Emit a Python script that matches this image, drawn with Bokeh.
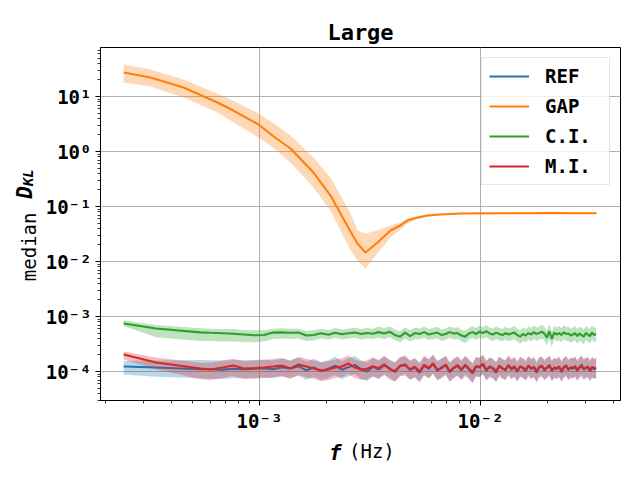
import numpy as np
from bokeh.plotting import figure
from bokeh.models import Range1d, FixedTicker, CustomJSTickFormatter, LogAxis
from bokeh.embed import file_html
from bokeh.resources import INLINE

# ---------------- data ----------------
# sample frequencies of the noisy series, in units of 1e-4 Hz
freq_1e4 = [2.43, 3.4, 5.4, 6.0, 6.8, 7.6, 8.5, 9.5, 10.5, 11.5,
            12.6, 13.8, 15.0, 16.3, 17.6, 19.0, 20.5, 22.0, 23.6, 25.2,
            27.0, 28.8, 30.7, 32.6, 34.6, 36.7, 38.8, 41.0, 43.3, 45.6,
            48.0, 50.5, 53.0, 55.6, 58.3, 61.0, 63.8, 66.7, 69.6, 72.6,
            75.7, 78.8, 82.0, 85.3, 88.6, 92.0, 95.5, 99.0, 102.6, 106.3,
            110.0, 113.8, 117.7, 121.6, 125.6, 129.7, 133.8, 138.0, 142.3, 146.7,
            151.1, 155.6, 160.2, 164.9, 169.6, 174.4, 179.3, 184.3, 189.3, 194.4,
            199.6, 204.9, 210.2, 215.6, 221.1, 226.7, 232.3, 238.0, 243.8, 249.7,
            255.7, 261.7, 267.8, 274.0, 280.3, 286.7, 293.1, 299.6, 306.2, 312.9,
            319.7, 326.6, 333.5]

# REF, in units of 1e-4
ref_median = [1.23, 1.18, 1.10, 1.10, 1.08, 1.12, 1.10, 1.12, 1.15, 1.10,
              1.20, 1.14, 1.25, 1.05, 1.18, 1.02, 1.12, 1.28, 1.08, 1.20,
              1.32, 1.10, 1.00, 1.22, 1.08, 1.30, 1.14, 0.98, 1.25, 1.35,
              1.06, 1.18, 0.95, 1.28, 1.12, 1.38, 1.02, 1.20, 1.30, 0.97,
              1.15, 1.26, 1.05, 1.33, 1.10, 0.92, 1.22, 1.18, 1.35, 1.02,
              1.25, 1.12, 0.95, 1.28, 1.15, 1.05, 1.32, 1.08, 1.20, 0.98,
              1.26, 1.14, 1.02, 1.30, 1.10, 1.22, 0.95, 1.18, 1.28, 1.05,
              1.15, 1.32, 1.00, 1.20, 1.10, 1.25, 0.98, 1.16, 1.30, 1.06,
              1.20, 1.12, 1.26, 1.02, 1.18, 1.34, 1.08, 1.14, 1.24, 1.00,
              1.20, 1.10, 1.16]
ref_upper = [1.55, 1.58, 1.62, 1.60, 1.58, 1.62, 1.60, 1.62, 1.66, 1.58,
             1.70, 1.62, 1.78, 1.52, 1.70, 1.48, 1.62, 1.85, 1.56, 1.74,
             1.92, 1.60, 1.46, 1.78, 1.58, 1.90, 1.66, 1.44, 1.82, 1.98,
             1.55, 1.72, 1.40, 1.88, 1.64, 2.02, 1.50, 1.76, 1.90, 1.42,
             1.68, 1.85, 1.54, 1.95, 1.62, 1.36, 1.80, 1.74, 1.98, 1.50,
             1.84, 1.65, 1.42, 1.90, 1.70, 1.56, 1.95, 1.60, 1.78, 1.46,
             1.86, 1.70, 1.52, 1.92, 1.64, 1.82, 1.42, 1.76, 1.90, 1.56,
             1.72, 1.96, 1.50, 1.78, 1.64, 1.86, 1.46, 1.72, 1.94, 1.58,
             1.78, 1.68, 1.88, 1.52, 1.76, 2.00, 1.62, 1.70, 1.84, 1.50,
             1.80, 1.64, 1.72]
ref_lower = [0.88, 0.80, 0.75, 0.74, 0.73, 0.76, 0.75, 0.76, 0.78, 0.75,
             0.81, 0.77, 0.84, 0.71, 0.80, 0.69, 0.76, 0.86, 0.73, 0.81,
             0.89, 0.74, 0.67, 0.82, 0.73, 0.87, 0.77, 0.66, 0.84, 0.90,
             0.71, 0.79, 0.64, 0.86, 0.75, 0.92, 0.69, 0.80, 0.87, 0.65,
             0.77, 0.84, 0.70, 0.89, 0.74, 0.61, 0.82, 0.79, 0.90, 0.68,
             0.84, 0.75, 0.64, 0.86, 0.77, 0.70, 0.88, 0.72, 0.80, 0.65,
             0.84, 0.76, 0.68, 0.87, 0.73, 0.81, 0.63, 0.78, 0.85, 0.70,
             0.76, 0.88, 0.66, 0.79, 0.73, 0.83, 0.64, 0.77, 0.86, 0.70,
             0.79, 0.74, 0.83, 0.67, 0.78, 0.89, 0.71, 0.75, 0.82, 0.66,
             0.79, 0.72, 0.76]

# C.I., in units of 1e-4
ci_median = [7.46, 6.05, 5.15, 5.05, 4.95, 4.85, 4.7, 4.55, 4.6, 5.1,
             5.15, 5.05, 5.1, 4.5, 4.6, 4.95, 4.65, 5.05, 4.75, 4.95,
             5.1, 4.8, 5.0, 4.85, 5.2, 4.9, 5.3, 4.6, 4.3, 5.1,
             4.4, 5.0, 4.8, 5.2, 4.7, 4.9, 5.1, 4.6, 4.8, 5.2,
             4.9, 5.0, 4.5, 4.3, 4.9, 5.2, 4.8, 5.3, 5.0, 5.4,
             4.9, 4.7, 5.1, 4.8, 4.6, 5.0, 4.7, 4.9, 5.1, 4.6,
             4.3, 4.8, 4.5, 5.0, 4.7, 5.2, 4.8, 5.0, 5.3, 4.9,
             4.1, 5.4, 3.9, 5.1, 4.7, 5.0, 4.6, 5.2, 4.8, 4.9,
             4.5, 4.7, 5.0, 4.4, 4.9, 4.6, 4.3, 5.0, 4.7, 4.4,
             5.1, 4.6, 4.8]
ci_upper = [8.5, 7.0, 6.1, 6.0, 5.9, 5.9, 5.7, 5.6, 5.6, 6.0,
            6.1, 6.0, 6.0, 5.5, 5.6, 6.0, 5.7, 6.2, 5.8, 6.0,
            6.3, 5.9, 6.2, 6.0, 6.5, 6.1, 6.6, 5.8, 5.4, 6.4,
            5.6, 6.3, 6.0, 6.6, 5.9, 6.2, 6.5, 5.8, 6.1, 6.6,
            6.2, 6.4, 5.7, 5.5, 6.2, 6.7, 6.1, 6.9, 6.4, 7.0,
            6.3, 6.0, 6.6, 6.2, 5.9, 6.5, 6.1, 6.3, 6.7, 6.0,
            5.6, 6.3, 5.9, 6.6, 6.2, 6.9, 6.3, 6.6, 7.1, 6.5,
            5.5, 7.2, 5.3, 6.8, 6.3, 6.7, 6.1, 7.0, 6.4, 6.6,
            6.0, 6.3, 6.7, 5.9, 6.6, 6.2, 5.8, 6.8, 6.3, 5.9,
            6.9, 6.2, 6.5]
ci_lower = [6.7, 4.2, 3.6, 3.6, 3.5, 3.5, 3.4, 3.4, 3.5, 3.9,
            4.0, 3.9, 4.0, 3.6, 3.7, 4.0, 3.8, 4.1, 3.8, 4.0,
            4.1, 3.8, 4.0, 3.9, 4.1, 3.9, 4.2, 3.7, 3.4, 4.0,
            3.5, 3.9, 3.8, 4.1, 3.7, 3.9, 4.0, 3.6, 3.8, 4.1,
            3.8, 3.9, 3.5, 3.3, 3.8, 4.1, 3.7, 4.1, 3.9, 4.2,
            3.8, 3.6, 3.9, 3.7, 3.5, 3.8, 3.6, 3.7, 3.9, 3.5,
            3.2, 3.6, 3.4, 3.8, 3.5, 3.9, 3.6, 3.8, 4.0, 3.7,
            3.0, 4.0, 2.8, 3.8, 3.5, 3.7, 3.4, 3.9, 3.6, 3.6,
            3.3, 3.5, 3.7, 3.2, 3.6, 3.4, 3.1, 3.7, 3.5, 3.2,
            3.8, 3.4, 3.5]

# M.I., in units of 1e-4
mi_median = [2.04, 1.46, 1.13, 1.09, 1.18, 1.29, 1.13, 1.15, 1.18, 1.23,
             1.29, 1.13, 1.34, 1.23, 1.13, 1.04, 1.09, 1.18, 1.23, 1.40,
             1.18, 1.09, 1.12, 1.25, 1.15, 1.35, 1.10, 1.02, 1.28, 1.30,
             1.10, 1.22, 1.00, 1.32, 1.16, 1.40, 1.08, 1.15, 1.34, 1.02,
             1.18, 1.30, 1.10, 1.28, 1.14, 0.98, 1.26, 1.22, 1.38, 1.08,
             1.20, 1.16, 1.02, 1.25, 1.12, 1.10, 1.28, 1.14, 1.24, 1.04,
             1.22, 1.18, 1.08, 1.26, 1.14, 1.20, 1.02, 1.22, 1.24, 1.10,
             1.18, 1.28, 1.06, 1.16, 1.14, 1.22, 1.04, 1.20, 1.26, 1.10,
             1.16, 1.18, 1.22, 1.08, 1.20, 1.24, 1.12, 1.18, 1.20, 1.06,
             1.22, 1.14, 1.18]
mi_upper = [2.32, 1.80, 1.45, 1.45, 1.58, 1.70, 1.55, 1.58, 1.62, 1.68,
            1.78, 1.56, 1.85, 1.70, 1.58, 1.48, 1.54, 1.66, 1.74, 1.96,
            1.66, 1.54, 1.60, 1.80, 1.64, 1.94, 1.58, 1.48, 1.84, 1.88,
            1.60, 1.76, 1.46, 1.92, 1.68, 2.04, 1.58, 1.68, 1.96, 1.50,
            1.72, 1.90, 1.62, 1.88, 1.68, 1.44, 1.86, 1.80, 2.04, 1.60,
            1.78, 1.72, 1.52, 1.86, 1.66, 1.64, 1.90, 1.70, 1.84, 1.56,
            1.82, 1.76, 1.62, 1.88, 1.70, 1.80, 1.54, 1.82, 1.86, 1.66,
            1.76, 1.92, 1.60, 1.74, 1.72, 1.84, 1.58, 1.80, 1.90, 1.66,
            1.76, 1.78, 1.84, 1.64, 1.80, 1.88, 1.70, 1.78, 1.82, 1.62,
            1.84, 1.72, 1.78]
mi_lower = [1.65, 1.10, 0.72, 0.70, 0.76, 0.83, 0.73, 0.74, 0.76, 0.79,
            0.83, 0.73, 0.86, 0.79, 0.73, 0.67, 0.70, 0.76, 0.79, 0.90,
            0.76, 0.70, 0.72, 0.81, 0.74, 0.87, 0.71, 0.66, 0.83, 0.84,
            0.71, 0.79, 0.65, 0.85, 0.75, 0.90, 0.70, 0.74, 0.86, 0.66,
            0.76, 0.84, 0.71, 0.83, 0.74, 0.63, 0.81, 0.79, 0.89, 0.70,
            0.77, 0.75, 0.66, 0.81, 0.72, 0.71, 0.83, 0.74, 0.80, 0.67,
            0.79, 0.76, 0.70, 0.81, 0.74, 0.77, 0.66, 0.79, 0.80, 0.71,
            0.76, 0.83, 0.68, 0.75, 0.74, 0.79, 0.67, 0.77, 0.81, 0.71,
            0.75, 0.76, 0.79, 0.70, 0.77, 0.80, 0.72, 0.76, 0.77, 0.68,
            0.79, 0.74, 0.76]

# GAP (Hz, absolute values)
gap_freq = [2.43e-4, 3.21e-4, 4.53e-4, 6.45e-4, 7.39e-4, 9.9e-4, 1.18e-3, 1.381e-3,
            1.755e-3, 2.096e-3, 2.326e-3, 2.581e-3, 2.776e-3, 3.017e-3, 3.42e-3, 3.915e-3,
            4.34e-3, 4.67e-3, 5.08e-3, 5.75e-3, 6.59e-3, 8.12e-3, 1.23e-2, 2.07e-2,
            3.35e-2]
gap_median = [27.3, 22.1, 14.6, 7.8, 5.93, 3.1, 1.78, 1.134,
              0.415, 0.158, 0.0746, 0.0351, 0.0212, 0.0146, 0.0221, 0.0366,
              0.0452, 0.0556, 0.0618, 0.0686, 0.0716, 0.0746, 0.0755, 0.0758,
              0.0755]
gap_upper = [38.2, 31.0, 20.4, 11.3, 8.8, 4.9, 3.09, 1.95,
             0.778, 0.337, 0.158, 0.075, 0.0366, 0.0324, 0.0366, 0.0452,
             0.0513, 0.0605, 0.065, 0.0725, 0.0745, 0.077, 0.0775, 0.0778,
             0.0775]
gap_lower = [18.0, 15.2, 9.6, 5.1, 3.66, 1.80, 1.09, 0.631,
             0.221, 0.0846, 0.0366, 0.016, 0.0104, 0.00746, 0.014, 0.0273,
             0.0382, 0.049, 0.058, 0.065, 0.069, 0.072, 0.0735, 0.0738,
             0.0735]

series_names = ["REF", "GAP", "C.I.", "M.I."]
series_colors = ["#1f77b4", "#ff7f0e", "#2ca02c", "#d62728"]

x_major_ticks = [1e-3, 1e-2]
x_minor_ticks = [2e-4, 3e-4, 4e-4, 5e-4, 6e-4, 7e-4, 8e-4, 9e-4,
                 2e-3, 3e-3, 4e-3, 5e-3, 6e-3, 7e-3, 8e-3, 9e-3,
                 2e-2, 3e-2, 4e-2]
y_major_ticks = [1e-4, 1e-3, 1e-2, 1e-1, 1e0, 1e1]
y_minor_ticks = [3e-5, 4e-5, 5e-5, 6e-5, 7e-5, 8e-5, 9e-5,
                 2e-4, 3e-4, 4e-4, 5e-4, 6e-4, 7e-4, 8e-4, 9e-4,
                 2e-3, 3e-3, 4e-3, 5e-3, 6e-3, 7e-3, 8e-3, 9e-3,
                 2e-2, 3e-2, 4e-2, 5e-2, 6e-2, 7e-2, 8e-2, 9e-2,
                 2e-1, 3e-1, 4e-1, 5e-1, 6e-1, 7e-1, 8e-1, 9e-1,
                 2e0, 3e0, 4e0, 5e0, 6e0, 7e0, 8e0, 9e0,
                 2e1, 3e1, 4e1, 5e1, 6e1, 7e1]

# ---------------- figure ----------------
MONO = "DejaVu Sans Mono"
UNIT = 1e-4
NB = "\u00a0"
W, H = 640, 480

p = figure(width=W, height=H, x_axis_type="log", y_axis_type="log",
           x_range=Range1d(1.908e-4, 0.043), y_range=Range1d(2.97e-5, 77.8),
           output_backend="svg", toolbar_location=None,
           min_border_left=100, min_border_right=20,
           min_border_top=47, min_border_bottom=80)

p.title.text = "Large"
p.title.align = "center"
p.title.text_font = MONO
p.title.text_font_size = "22px"
p.title.text_font_style = "bold"
p.title.text_color = "black"
p.title.standoff = 6

f = np.array(freq_1e4) * UNIT
noisy = {
    "REF": (ref_median, ref_lower, ref_upper),
    "C.I.": (ci_median, ci_lower, ci_upper),
    "M.I.": (mi_median, mi_lower, mi_upper),
}

for name, color in zip(series_names, series_colors):
    if name == "GAP":
        xs = np.array(gap_freq)
        med, lo, hi = np.array(gap_median), np.array(gap_lower), np.array(gap_upper)
    else:
        xs = f
        m, l, h = noisy[name]
        med, lo, hi = np.array(m) * UNIT, np.array(l) * UNIT, np.array(h) * UNIT
    p.varea(x=xs, y1=lo, y2=hi, fill_color=color, fill_alpha=0.3)
    p.line(x=xs, y=med, line_color=color, line_width=2.1, legend_label=name)

fmt = CustomJSTickFormatter(code="""
const sup = {"-":"\u207b","0":"\u2070","1":"\u00b9","2":"\u00b2","3":"\u00b3",
             "4":"\u2074","5":"\u2075","6":"\u2076","7":"\u2077","8":"\u2078","9":"\u2079"};
const e = Math.round(Math.log10(tick));
return "10" + String(e).split("").map(c => sup[c]).join("");
""")

p.xaxis.ticker = FixedTicker(ticks=x_major_ticks, minor_ticks=x_minor_ticks)
p.yaxis.ticker = FixedTicker(ticks=y_major_ticks, minor_ticks=y_minor_ticks)
for ax in (p.xaxis[0], p.yaxis[0]):
    ax.formatter = fmt
    ax.major_label_text_font = MONO
    ax.major_label_text_font_size = "19px"
    ax.major_label_text_font_style = "bold"
    ax.major_label_text_color = "black"
    ax.axis_line_color = "black"
    ax.axis_line_width = 1
    ax.major_tick_line_color = "black"
    ax.major_tick_line_width = 1
    ax.minor_tick_line_color = "black"
    ax.minor_tick_line_width = 0.8
    ax.major_tick_in = 0
    ax.major_tick_out = 5
    ax.minor_tick_in = 0
    ax.minor_tick_out = 3
    ax.major_label_standoff = 4
    ax.axis_label_text_font = MONO
    ax.axis_label_text_font_size = "19px"
    ax.axis_label_text_font_style = "normal"
    ax.axis_label_text_color = "black"

# axis titles: regular parts on the main axes, bold-italic parts on
# tick-less companion axes pulled back onto the same line
p.yaxis[0].axis_label = "median" + NB * 4
p.yaxis[0].axis_label_standoff = 3
p.xaxis[0].axis_label = NB * 2 + "(Hz)"
p.xaxis[0].axis_label_standoff = 5


def label_axis(text, size, standoff, side):
    ax = LogAxis(ticker=FixedTicker(ticks=[], minor_ticks=[]),
                 axis_label=text, axis_label_text_font=MONO,
                 axis_label_text_font_size=size,
                 axis_label_text_font_style="bold italic",
                 axis_label_text_color="black",
                 axis_label_standoff=standoff,
                 axis_line_color=None, major_tick_line_color=None,
                 minor_tick_line_color=None)
    p.add_layout(ax, side)


label_axis(NB * 5 + "D", "21px", -22, "left")
label_axis(NB * 11 + "KL", "14px", -26, "left")
label_axis("f" + NB * 4, "21px", -24, "below")

for g in (p.xgrid[0], p.ygrid[0]):
    g.grid_line_color = "#b0b0b0"
    g.grid_line_width = 1

p.outline_line_color = "black"
p.outline_line_width = 1
p.outline_line_alpha = 1
p.background_fill_color = "white"
p.border_fill_color = "white"

lg = p.legend[0]
lg.location = "top_right"
lg.margin = 10
lg.padding = 7
lg.spacing = 8
lg.glyph_width = 40
lg.glyph_height = 20
lg.label_height = 20
lg.label_width = 57
lg.label_standoff = 16
lg.label_text_font = MONO
lg.label_text_font_size = "19px"
lg.label_text_font_style = "bold"
lg.label_text_color = "black"
lg.label_text_baseline = "middle"
lg.border_line_color = "#cccccc"
lg.border_line_width = 1
lg.background_fill_alpha = 0.8

open("out.html", "w").write(file_html(p, INLINE))
